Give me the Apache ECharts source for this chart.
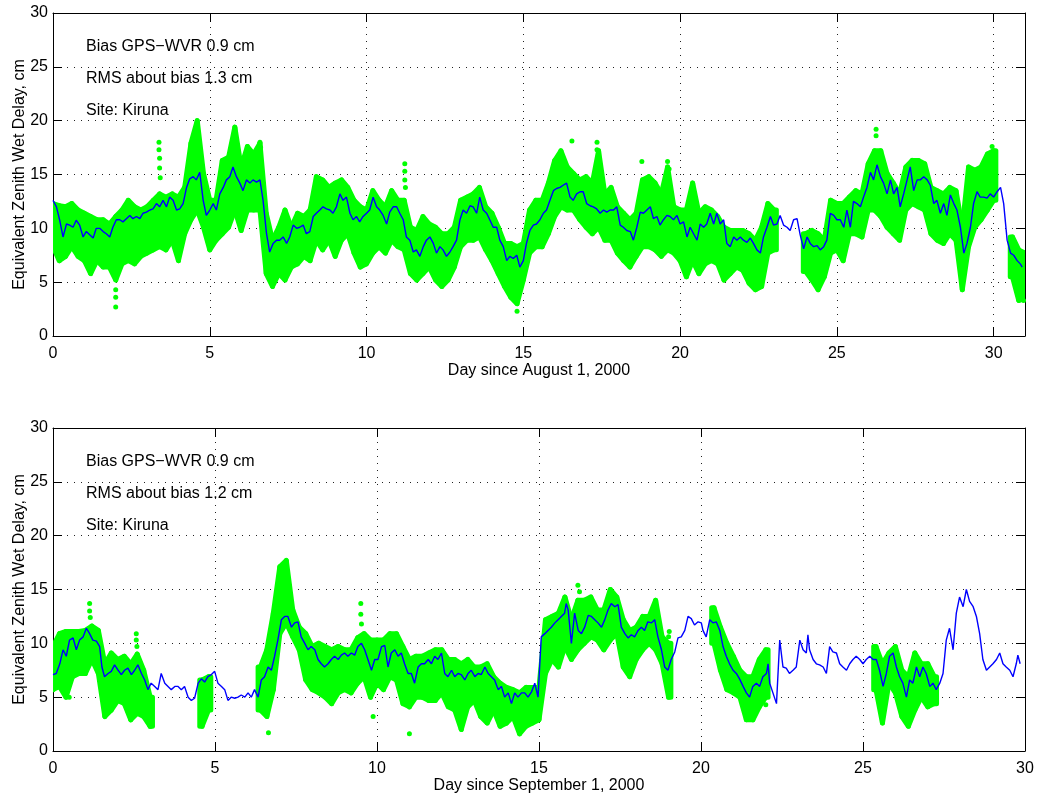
<!DOCTYPE html>
<html>
<head>
<meta charset="utf-8">
<script src="https://cdn.jsdelivr.net/npm/echarts@6/dist/echarts.min.js"></script>
<style>html,body{margin:0;padding:0;background:#fff;}#c{width:1037px;height:797px;}</style>
</head>
<body>
<div id="c"></div>
<script>
// ---------- DATA ----------
var xTicksTop = [0, 5, 10, 15, 20, 25, 30];
var yTicks = [0, 5, 10, 15, 20, 25, 30];
var topXName = 'Day since August 1, 2000';
var botXName = 'Day since September 1, 2000';
var yName = 'Equivalent Zenith Wet Delay, cm';
var topNotes = ['Bias GPS\u2212WVR 0.9 cm', 'RMS about bias 1.3 cm', 'Site: Kiruna'];
var botNotes = ['Bias GPS\u2212WVR 0.9 cm', 'RMS about bias 1.2 cm', 'Site: Kiruna'];

// WVR (blue line) August: [day, cm]
var topWvr = [[0,12.6],[0.11,12.0],[0.21,10.8],[0.32,9.2],[0.43,10.4],[0.53,10.3],[0.64,10.1],[0.74,10.75],[0.85,10.3],[0.96,9.2],[1.06,9.7],[1.17,9.4],[1.28,9.1],[1.38,10.0],[1.49,10.0],[1.6,9.7],[1.7,9.5],[1.81,9.2],[1.91,10.1],[2.02,10.8],[2.13,10.8],[2.23,10.6],[2.34,10.9],[2.45,11.2],[2.55,10.9],[2.66,11.1],[2.77,10.9],[2.87,11.4],[2.98,11.5],[3.09,11.7],[3.19,11.8],[3.3,12.3],[3.4,12.0],[3.51,12.6],[3.62,12.0],[3.72,12.9],[3.83,12.6],[3.94,11.7],[4.04,11.8],[4.15,12.3],[4.26,13.8],[4.36,14.6],[4.47,14.8],[4.57,14.5],[4.68,15.2],[4.79,12.6],[4.89,11.2],[5.0,11.7],[5.11,12.3],[5.21,11.7],[5.32,13.2],[5.43,13.8],[5.53,14.5],[5.64,14.8],[5.74,15.7],[5.85,14.8],[5.96,14.2],[6.06,13.5],[6.17,14.5],[6.28,14.2],[6.38,14.5],[6.49,14.3],[6.6,14.5],[6.7,12.6],[6.81,9.5],[6.91,7.8],[7.02,8.6],[7.13,8.9],[7.23,8.9],[7.34,9.2],[7.45,8.6],[7.55,9.2],[7.66,10.3],[7.77,10.0],
[7.87,10.1],[7.98,10.3],[8.08,9.5],[8.19,9.7],[8.3,11.1],[8.4,11.4],[8.51,11.7],[8.61,12.0],[8.72,11.8],[8.83,11.7],[8.93,11.4],[9.04,12.0],[9.15,13.2],[9.25,12.6],[9.36,12.9],[9.47,11.4],[9.57,10.8],[9.68,11.1],[9.78,10.6],[9.89,11.1],[10.0,11.4],[10.1,11.7],[10.21,12.9],[10.32,12.0],[10.42,11.7],[10.53,11.2],[10.64,10.4],[10.74,11.5],[10.85,12.0],[10.96,12.0],[11.06,11.4],[11.17,10.8],[11.27,9.2],[11.38,8.9],[11.49,7.8],[11.59,8.0],[11.7,7.4],[11.81,8.3],[11.91,8.9],[12.02,9.2],[12.13,8.6],[12.23,7.7],[12.34,8.3],[12.44,8.0],[12.55,7.4],[12.66,7.8],[12.76,8.3],[12.87,8.9],[12.98,10.8],[13.08,11.7],[13.19,11.4],[13.3,12.1],[13.4,12.0],[13.51,11.4],[13.61,12.9],[13.72,11.7],[13.83,11.4],[13.93,10.8],[14.04,10.1],[14.15,10.1],[14.25,8.9],[14.36,8.3],[14.47,7.0],[14.57,7.4],[14.68,7.2],[14.79,7.5],[14.89,6.4],[15.0,7.0],[15.1,8.6],[15.21,9.8],[15.32,10.3],[15.42,10.4],[15.53,10.8],[15.64,11.4],[15.74,11.7],[15.85,12.6],[15.96,13.5],[16.06,13.7],[16.17,13.8],[16.27,14.0],[16.38,14.2],[16.49,12.9],[16.59,12.6],[16.7,13.2],[16.81,13.4],[16.91,13.4],[17.02,12.3],[17.13,12.1],[17.23,12.0],[17.34,11.8],
[17.45,11.4],[17.56,11.7],[17.66,11.5],[17.77,11.7],[17.88,11.7],[17.98,12.0],[18.09,10.3],[18.19,10.1],[18.3,9.8],[18.41,9.7],[18.51,8.9],[18.62,10.1],[18.73,11.5],[18.83,11.4],[18.94,11.7],[19.05,12.0],[19.15,10.9],[19.26,11.1],[19.36,10.3],[19.47,10.8],[19.58,11.2],[19.68,11.1],[19.79,10.8],[19.9,11.2],[20.0,10.4],[20.11,10.6],[20.22,9.2],[20.32,10.1],[20.43,9.5],[20.54,8.9],[20.64,10.4],[20.75,10.1],[20.85,10.4],[20.96,11.4],[21.07,10.4],[21.17,11.4],[21.28,10.4],[21.39,10.8],[21.49,8.6],[21.6,8.3],[21.71,9.2],[21.81,8.9],[21.92,9.2],[22.02,8.9],[22.13,8.7],[22.24,9.1],[22.34,8.6],[22.45,8.0],[22.56,7.7],[22.66,9.2],[22.77,10.1],[22.88,11.1],[22.98,10.3],[23.09,10.4],[23.19,11.2],[23.3,10.3],[23.41,10.1],[23.51,9.8],[23.62,10.8],[23.73,10.9],[23.83,9.4],[23.94,8.1],[24.05,9.2],[24.15,8.6],[24.26,8.3],[24.37,8.4],[24.47,8.0],[24.58,8.3],[24.68,8.9],[24.79,11.4],[24.9,11.2],[25.0,10.8],[25.11,10.8],[25.22,10.1],[25.32,11.7],[25.43,10.1],[25.53,12.5],[25.64,12.3],[25.75,12.0],[25.85,12.9],[25.96,13.8],[26.07,15.2],[26.17,14.5],[26.28,15.9],[26.39,14.8],[26.49,14.2],[26.6,13.2],[26.71,14.5],[26.81,13.2],[26.92,13.8],[27.02,12.0],[27.13,13.2],[27.24,14.5],[27.34,15.7],[27.45,13.5],[27.56,14.5],[27.66,14.5],[27.77,14.8],[27.88,14.5],[27.98,14.0],[28.09,12.3],[28.19,12.6],[28.3,11.4],[28.41,12.3],[28.51,11.2],[28.62,13.1],[28.73,12.3],[28.83,11.7],[28.94,10.1],[29.05,7.7],[29.15,8.6],[29.26,10.1],[29.36,12.3],[29.47,13.4],[29.57,12.9],[29.68,12.9],[29.79,12.8],[29.89,13.2],[30.0,12.9],[30.11,13.4],[30.22,13.8],[30.32,12.3],[30.43,8.9],[30.54,7.7],[30.64,7.5],[30.75,7.0],[30.85,6.7],[30.91,6.4]];

// GPS (green) August: [day, low, high] of the dense cloud
var topGps = [[0.0,8.3,12.3],[0.2,7.0,12.1],[0.4,7.4,12.0],[0.6,8.3,12.3],[0.8,7.4,11.7],[1.0,7.0,11.4],[1.2,5.8,11.1],[1.4,7.0,10.8],[1.6,6.4,10.8],[1.8,6.4,10.4],[2.0,5.2,11.1],[2.2,6.7,11.7],[2.4,7.0,12.6],[2.6,6.7,12.0],[2.8,7.4,11.7],[3.0,7.7,12.0],[3.2,8.0,12.6],[3.4,8.3,13.2],[3.6,8.0,12.9],[3.8,8.9,13.2],[4.0,7.0,12.9],[4.2,9.5,13.8],[4.4,10.8,17.9],[4.6,11.7,20.0],[4.8,10.1,15.1],[5.0,8.0,12.6],[5.2,8.9,12.6],[5.4,9.5,16.3],[5.6,10.1,16.6],[5.8,11.7,19.4],[6.0,9.8,15.7],[6.2,11.7,17.6],[6.4,11.7,16.9],[6.6,11.7,17.9],[6.8,5.8,11.4],[7.0,4.6,8.9],[7.2,5.8,10.1],[7.4,5.2,11.7],[7.6,6.4,10.1],[7.8,6.7,11.4],[8.0,7.4,11.1],[8.2,7.0,11.7],[8.4,8.9,14.8],[8.6,8.0,14.5],[8.8,8.9,13.8],[9.0,7.4,14.2],[9.2,8.9,14.5],[9.4,9.5,13.8],[9.6,7.7,12.6],[9.8,6.4,12.0],[10.0,6.7,11.7],[10.2,7.7,13.5],[10.4,8.3,12.6],[10.6,7.7,12.0],[10.8,8.9,13.5],[11.0,8.3,12.6],[11.2,8.0,12.6],[11.4,5.8,10.1],[11.6,5.2,9.8],[11.8,5.8,11.1],[12.0,6.4,10.4],[12.2,5.2,10.1],[12.4,4.6,9.5],[12.6,5.2,9.5],[12.8,6.4,10.1],[13.0,8.3,12.6],[13.2,8.9,12.9],[13.4,8.9,13.2],[13.6,9.2,13.8],[13.8,8.0,12.0],[14.0,7.0,11.4],[14.2,5.8,10.1],[14.4,4.6,8.6],[14.6,3.6,8.6],[14.8,3.0,8.3],[15.0,5.2,8.6],[15.2,7.7,11.7],[15.4,8.3,12.6],[15.6,8.3,12.6],[15.8,9.5,14.2],[16.0,11.1,16.3],[16.2,12.0,17.2],[16.4,11.7,15.7],[16.6,11.7,15.1],[16.8,10.8,14.5],[17.0,10.1,14.8],[17.2,9.5,14.2],[17.4,10.1,17.2],[17.6,8.9,13.2],[17.8,8.9,13.8],[18.0,7.7,12.0],[18.2,7.0,11.4],[18.4,6.4,10.8],[18.6,7.4,11.4],[18.8,8.3,14.5],[19.0,8.3,14.8],[19.2,8.0,14.2],[19.4,7.4,13.2],[19.6,8.0,15.7],[19.8,7.7,12.0],[20.0,7.0,11.7],[20.2,5.5,11.7],[20.4,7.0,14.2],[20.6,5.8,11.4],[20.8,6.7,12.0],[21.0,7.0,11.7],[21.2,6.7,11.1],[21.4,5.2,10.1],[21.6,5.8,9.8],[21.8,6.4,9.8],[22.0,6.1,9.8],[22.2,4.9,9.5],[22.4,4.3,8.9],[22.6,4.6,10.1],[22.8,7.7,12.3],[23.0,8.0,11.7],[24.0,6.0,9.5],[24.2,5.2,9.8],[24.4,4.3,9.5],[24.6,5.5,8.9],[24.8,7.7,12.6],[25.0,8.0,12.3],[25.2,7.0,12.3],[25.4,9.5,12.9],[25.6,9.5,13.5],[25.8,9.2,13.2],[26.0,11.7,16.0],[26.2,11.7,17.2],[26.4,11.1,17.2],[26.6,10.1,15.1],[26.8,9.5,14.2],[27.0,8.9,13.2],[27.2,11.7,15.7],[27.4,12.3,16.3],[27.6,12.0,16.3],[27.8,11.7,16.0],[28.0,9.5,13.8],[28.2,8.9,13.5],[28.4,8.6,13.2],[28.6,9.5,13.8],[28.8,8.9,13.5],[29.0,4.3,10.1],[29.2,8.3,15.7],[29.4,10.1,15.4],[29.6,10.8,15.7],[29.8,11.7,16.9],[30.0,12.6,17.2],[30.6,5.5,9.2],[30.8,3.3,8.0],[31.0,3.6,7.7]];

// GPS isolated points August
var topGpsOut = [[2.0,4.3],[2.0,3.6],[2.0,2.7],[3.38,18.0],[3.38,17.3],[3.4,16.5],[3.4,15.6],[3.42,14.7],[6.6,18.0],[6.62,17.5],[11.22,16.0],[11.22,15.3],[11.22,14.5],[11.24,13.8],[14.8,2.3],[16.55,18.1],[17.35,18.0],[17.35,17.3],[17.38,16.5],[18.78,16.2],[19.6,16.2],[19.65,15.5],[26.25,19.2],[26.25,18.6],[29.95,17.6],[30.95,3.3]];

// WVR (blue line) September
var botWvr = [[0,7.1],[0.1,7.2],[0.21,8.1],[0.31,9.4],[0.41,8.8],[0.51,10.3],[0.62,10.5],[0.72,9.4],[0.82,10.3],[0.93,10.6],[1.03,11.4],[1.13,10.9],[1.23,10.3],[1.34,10.2],[1.44,9.7],[1.51,7.8],[1.59,6.9],[1.7,7.2],[1.8,7.4],[1.9,8.0],[2.01,7.5],[2.11,7.1],[2.21,7.5],[2.31,7.7],[2.42,7.1],[2.52,7.5],[2.62,8.0],[2.73,7.2],[2.83,6.6],[2.93,5.7],[3.03,6.3],[3.14,6.0],[3.24,5.7],[3.34,7.2],[3.45,6.3],[3.55,6.0],[3.65,5.7],[3.76,6.0],[3.86,6.0],[3.96,5.7],[4.06,6.0],[4.17,5.0],[4.27,4.7],[4.37,4.9],[4.48,6.3],[4.58,6.7],[4.68,6.4],[4.78,6.9],[4.89,7.1],[4.99,7.4],[5.09,6.3],[5.2,6.0],[5.3,5.7],[5.4,4.7],[5.5,5.0],[5.61,4.9],[5.71,5.0],[5.81,5.2],[5.92,5.0],[6.02,5.4],[6.12,5.0],[6.22,5.7],[6.33,5.0],[6.43,6.6],[6.53,6.9],[6.64,7.8],[6.74,7.5],[6.84,8.8],[6.94,10.3],[7.05,12.2],[7.15,12.5],[7.25,12.5],[7.36,11.5],[7.46,11.9],[7.56,12.0],[7.66,10.6],[7.77,10.0],[7.87,9.4],[7.97,9.7],[8.08,9.4],[8.18,8.5],[8.28,8.1],[8.38,7.8],[8.49,8.1],[8.59,8.5],[8.69,8.8],[8.8,8.5],[8.9,8.9],[9.0,9.1],[9.1,8.8],[9.21,9.1],[9.31,8.9],[9.41,9.7],[9.52,10.0],[9.62,9.4],[9.72,8.5],[9.83,7.5],[9.93,8.5],
[10.03,8.5],[10.14,9.7],[10.24,9.8],[10.34,7.8],[10.44,9.1],[10.55,9.4],[10.65,8.8],[10.75,9.1],[10.85,8.1],[10.96,7.2],[11.06,7.2],[11.16,6.3],[11.27,7.8],[11.37,8.1],[11.47,8.1],[11.58,8.5],[11.68,8.1],[11.78,8.8],[11.88,8.5],[11.99,9.1],[12.09,7.2],[12.19,6.9],[12.3,7.5],[12.4,6.9],[12.5,7.2],[12.6,7.1],[12.71,6.6],[12.81,7.2],[12.91,7.5],[13.02,6.9],[13.12,7.2],[13.22,7.1],[13.33,7.8],[13.43,7.2],[13.53,6.9],[13.63,6.6],[13.74,5.7],[13.84,6.0],[13.94,5.0],[14.05,5.4],[14.15,4.4],[14.25,5.4],[14.35,5.0],[14.46,5.4],[14.56,5.4],[14.66,5.0],[14.77,5.5],[14.87,6.3],[14.97,5.0],[15.07,10.6],[15.18,10.9],[15.28,11.2],[15.38,11.5],[15.49,11.9],[15.59,12.2],[15.69,12.5],[15.79,12.8],[15.84,13.7],[15.9,13.1],[16.0,10.0],[16.1,12.8],[16.21,11.2],[16.31,10.9],[16.41,11.5],[16.52,12.6],[16.62,12.5],[16.72,12.2],[16.82,11.9],[16.93,11.5],[17.03,12.2],[17.13,13.1],[17.23,13.7],[17.34,13.4],[17.44,13.6],[17.54,11.5],[17.65,10.9],[17.75,10.5],[17.85,10.8],[17.95,10.6],[18.06,11.2],[18.16,11.5],[18.26,11.2],[18.36,12.0],[18.47,11.9],[18.57,12.2],[18.67,10.6],[18.78,9.4],[18.88,7.8],[18.98,7.5],[19.08,8.5],[19.19,9.2],[19.29,10.5],[19.39,10.6],[19.5,11.2],[19.6,12.5],[19.7,12.3],[19.8,11.7],[19.91,12.0],[20.01,11.9],
[20.06,11.2],[20.16,10.6],[20.27,12.2],[20.37,11.9],[20.47,12.0],[20.58,11.2],[20.68,9.7],[20.78,8.8],[20.88,8.1],[20.99,7.5],[21.09,7.2],[21.19,6.7],[21.3,6.0],[21.4,5.4],[21.5,5.0],[21.6,6.0],[21.71,6.3],[21.81,6.0],[21.91,6.9],[22.02,7.2],[22.07,8.1],[22.12,6.3],[22.22,5.4],[22.33,4.4],[22.43,10.3],[22.53,7.8],[22.63,7.7],[22.73,7.2],[22.84,7.5],[22.94,7.8],[23.05,10.3],[23.15,9.4],[23.25,9.1],[23.3,10.8],[23.35,9.4],[23.46,8.5],[23.56,8.1],[23.66,8.0],[23.77,7.8],[23.87,7.2],[23.97,9.7],[24.07,9.2],[24.18,9.1],[24.28,8.1],[24.38,7.8],[24.49,7.5],[24.59,8.1],[24.69,8.5],[24.79,8.8],[24.9,8.5],[25.0,8.1],[25.1,8.5],[25.21,8.8],[25.31,8.5],[25.41,8.5],[25.51,7.5],[25.62,6.0],[25.72,7.2],[25.82,8.8],[25.93,9.1],[26.03,7.8],[26.13,6.9],[26.23,6.3],[26.34,5.0],[26.44,6.6],[26.54,6.3],[26.65,7.8],[26.75,6.9],[26.85,7.8],[26.95,7.2],[27.06,6.0],[27.16,6.3],[27.26,5.7],[27.37,6.3],[27.47,7.2],[27.57,10.3],[27.67,11.4],[27.78,9.4],[27.88,12.8],[27.98,14.3],[28.09,13.4],[28.19,15.0],[28.29,13.9],[28.4,13.4],[28.5,12.5],[28.6,10.9],[28.7,8.5],[28.81,7.5],[28.91,7.8],[29.01,8.1],[29.12,8.5],[29.22,9.1],[29.32,8.1],[29.42,7.8],[29.53,7.5],[29.63,6.9],[29.73,8.1],[29.78,8.9],[29.85,8.1]];

// GPS (green) September: [day, low, high]
var botGps = [[0.0,5.7,9.7],[0.2,6.0,10.9],[0.4,5.0,11.1],[0.6,6.9,11.1],[0.8,7.2,11.1],[1.0,7.2,11.2],[1.2,8.5,11.6],[1.4,7.2,11.2],[1.6,3.2,8.1],[1.8,3.8,9.1],[2.0,4.7,8.5],[2.2,4.4,8.8],[2.4,2.9,8.1],[2.6,3.5,9.0],[2.8,3.2,7.5],[3.0,2.3,5.0],[4.6,2.3,6.6],[4.8,3.8,6.9],[6.4,3.8,7.8],[6.6,3.2,9.4],[6.8,5.7,12.8],[7.0,10.9,17.1],[7.2,11.9,17.7],[7.4,10.6,13.1],[7.6,9.4,11.5],[7.8,6.6,10.9],[8.0,5.7,9.7],[8.2,5.4,10.0],[8.4,5.0,9.7],[8.6,4.4,9.4],[8.8,5.4,9.7],[9.0,5.7,9.4],[9.2,5.4,9.4],[9.4,6.3,10.5],[9.6,6.9,10.9],[9.8,5.0,10.3],[10.0,6.3,10.3],[10.2,5.7,10.3],[10.4,6.9,10.9],[10.6,6.6,10.9],[10.8,4.4,9.7],[11.0,4.1,8.5],[11.2,5.0,8.8],[11.4,5.0,8.8],[11.6,4.7,9.1],[11.8,4.7,9.4],[12.0,5.4,9.4],[12.2,4.1,8.5],[12.4,3.8,8.5],[12.6,2.0,8.1],[12.8,4.1,8.5],[13.0,4.7,7.8],[13.2,3.2,7.8],[13.4,2.6,8.1],[13.6,3.8,6.9],[13.8,2.3,6.3],[14.0,2.6,5.9],[14.2,3.2,5.7],[14.4,1.6,5.4],[14.6,2.3,5.9],[14.8,2.6,5.9],[15.0,2.9,5.9],[15.2,7.2,12.2],[15.4,8.5,12.5],[15.6,7.8,12.8],[15.8,9.7,14.3],[16.0,8.5,12.2],[16.2,9.4,14.0],[16.4,10.0,14.0],[16.6,10.6,14.3],[16.8,10.3,13.1],[17.0,9.4,13.1],[17.2,10.3,15.0],[17.4,10.9,14.3],[17.6,7.8,12.2],[17.8,6.9,11.2],[18.0,8.5,11.5],[18.2,9.4,12.5],[18.4,10.0,12.5],[18.6,9.4,14.0],[18.8,8.1,10.6],[19.0,5.0,10.0],[20.4,10.0,13.3],[20.6,7.5,11.5],[20.8,5.7,10.0],[21.0,5.4,8.8],[21.2,5.0,7.5],[21.4,2.9,6.9],[21.6,2.9,6.9],[21.8,4.1,8.5],[22.0,5.0,9.4],[25.4,5.7,9.7],[25.6,2.6,8.1],[25.8,6.3,9.1],[26.0,5.4,9.7],[26.2,3.2,7.5],[26.4,2.3,6.9],[26.6,3.8,9.1],[26.8,5.0,8.1],[27.0,4.1,8.1],[27.2,4.4,6.9]];

var botGpsOut = [[0.5,5.0],[1.13,13.7],[1.13,13.0],[1.15,12.4],[2.57,10.9],[2.57,10.3],[2.59,9.7],[3.0,2.3],[6.65,1.7],[9.5,13.7],[9.5,12.7],[9.52,11.8],[9.88,3.2],[11.0,1.6],[16.2,15.4],[16.25,14.8],[19.0,10.6],[19.02,11.1],[22.0,4.3]];

// ---------- CHART ----------
var FONT = '"Liberation Sans", Arial, Helvetica, sans-serif';
var GREEN = '#00ff00';
// Draws the GPS cloud band between consecutive read columns; isolated segment ends get a short cap.
function makeCloud(arr) {
  return function (params, api) {
    var i = params.dataIndex;
    var x = api.value(0), lo = api.value(1), hi = api.value(2);
    var next = arr[i + 1], prev = arr[i - 1];
    var hasNext = next && next[0] - x < 0.25;
    var hasPrev = prev && x - prev[0] < 0.25;
    var children = [];
    if (hasNext) {
      var a = api.coord([x, hi]), b = api.coord([next[0], next[2]]);
      var c = api.coord([next[0], next[1]]), d = api.coord([x, lo]);
      children.push({ type: 'polygon', shape: { points: [a, b, c, d] },
        style: { fill: GREEN, stroke: GREEN, lineWidth: 5, lineJoin: 'round' } });
    }
    if (!hasNext || !hasPrev) {
      var pt = api.coord([x, hi]), pb = api.coord([x, lo]);
      var l = api.coord([x - (hasPrev ? 0 : 0.07), lo])[0];
      var r = api.coord([x + (hasNext ? 0 : 0.07), lo])[0];
      children.push({ type: 'rect', shape: { x: l - 2.5, y: pt[1] - 2.5, width: r - l + 5, height: pb[1] - pt[1] + 5, r: 2.5 },
        style: { fill: GREEN } });
    }
    return { type: 'group', children: children };
  };
}
function xMain(grid, max, name) {
  return {
    gridIndex: grid, type: 'value', min: 0, max: max, interval: 5, position: 'bottom',
    axisLine: { show: true, onZero: false, lineStyle: { color: '#000', width: 1 } },
    axisTick: { show: true, inside: true, length: 9, lineStyle: { color: '#000' } },
    axisLabel: { color: '#000', fontSize: 16, fontFamily: FONT, margin: 10, showMaxLabel: max === 30 },
    splitLine: { show: true, lineStyle: { color: '#222', type: [1, 6], width: 1 } },
    name: name, nameLocation: 'middle', nameGap: 27, nameMoveOverlap: false,
    nameTextStyle: { color: '#000', fontSize: 16, fontFamily: FONT }
  };
}
function xTop(grid, max) {
  return {
    gridIndex: grid, type: 'value', min: 0, max: max, interval: 5, position: 'top',
    axisLine: { show: true, onZero: false, lineStyle: { color: '#000', width: 1 } },
    axisTick: { show: true, inside: true, length: 9, lineStyle: { color: '#000' } },
    axisLabel: { show: false }, splitLine: { show: false }
  };
}
function yMain(grid) {
  return {
    gridIndex: grid, type: 'value', min: 0, max: 30, interval: 5, position: 'left',
    axisLine: { show: true, onZero: false, lineStyle: { color: '#000', width: 1 } },
    axisTick: { show: true, inside: true, length: 9, lineStyle: { color: '#000' } },
    axisLabel: { color: '#000', fontSize: 16, fontFamily: FONT, margin: 5 },
    splitLine: { show: true, lineStyle: { color: '#222', type: [1, 6], width: 1 } },
    name: yName, nameLocation: 'middle', nameGap: 25, nameRotate: 90, nameMoveOverlap: false,
    nameTextStyle: { color: '#000', fontSize: 16, fontFamily: FONT }
  };
}
function yRight(grid) {
  return {
    gridIndex: grid, type: 'value', min: 0, max: 30, interval: 5, position: 'right',
    axisLine: { show: true, onZero: false, lineStyle: { color: '#000', width: 1 } },
    axisTick: { show: true, inside: true, length: 9, lineStyle: { color: '#000' } },
    axisLabel: { show: false }, splitLine: { show: false }
  };
}
function notes(list, top0) {
  return list.map(function (t, i) {
    return { type: 'text', left: 86, top: top0 + i * 32,
      style: { text: t, font: '16px ' + FONT, fill: '#000' } };
  });
}

var chart = echarts.init(document.getElementById('c'), null, { renderer: 'canvas' });
chart.setOption({
  animation: false,
  backgroundColor: '#fff',
  grid: [
    { left: 53, right: 12, top: 13, height: 323, outerBoundsMode: 'none', containLabel: false },
    { left: 53, right: 12, top: 428, height: 323, outerBoundsMode: 'none', containLabel: false }
  ],
  xAxis: [xMain(0, 31, topXName), xTop(0, 31), xMain(1, 30, botXName), xTop(1, 30)],
  yAxis: [yMain(0), yRight(0), yMain(1), yRight(1)],
  graphic: notes(topNotes, 39).concat(notes(botNotes, 454)),
  series: [
    { type: 'custom', xAxisIndex: 0, yAxisIndex: 0, clip: true, renderItem: makeCloud(topGps), encode: { x: 0, y: [1, 2] }, data: topGps, z: 2 },
    { type: 'scatter', xAxisIndex: 0, yAxisIndex: 0, symbolSize: 5, itemStyle: { color: GREEN, opacity: 1 }, data: topGpsOut, z: 2 },
    { type: 'line', xAxisIndex: 0, yAxisIndex: 0, showSymbol: false, lineStyle: { color: '#0000ff', width: 1.4 }, data: topWvr, z: 3 },
    { type: 'custom', xAxisIndex: 2, yAxisIndex: 2, clip: true, renderItem: makeCloud(botGps), encode: { x: 0, y: [1, 2] }, data: botGps, z: 2 },
    { type: 'scatter', xAxisIndex: 2, yAxisIndex: 2, symbolSize: 5, itemStyle: { color: GREEN, opacity: 1 }, data: botGpsOut, z: 2 },
    { type: 'line', xAxisIndex: 2, yAxisIndex: 2, showSymbol: false, lineStyle: { color: '#0000ff', width: 1.4 }, data: botWvr, z: 3 }
  ]
});
</script>
</body>
</html>
